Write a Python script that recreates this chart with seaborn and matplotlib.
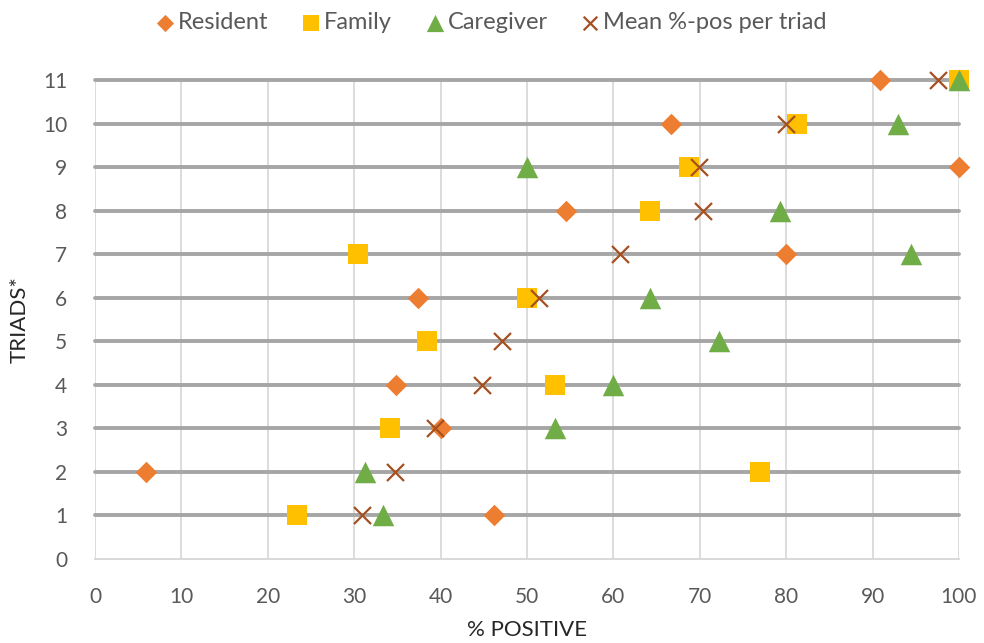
import numpy as np
import pandas as pd
import matplotlib
matplotlib.use("Agg")
import matplotlib.pyplot as plt
import seaborn as sns

triads = list(range(1, 12))
resident = [46.2, 5.9, 40.0, 34.8, np.nan, 37.4, 80.0, 54.5, 100.0, 66.7, 90.9]
family = [23.4, 77.0, 34.1, 53.2, 38.4, 50.0, 30.5, 64.3, 68.8, 81.3, 100.0]
caregiver = [33.3, 31.2, 53.3, 60.0, 72.2, 64.3, 94.4, 79.3, 50.0, 92.9, 100.0]
mean_pos = [30.9, 34.7, 39.4, 44.8, 47.1, 51.4, 60.8, 70.4, 69.9, 80.0, 97.6]

series = ['Resident', 'Family', 'Caregiver', 'Mean %-pos per triad']
df = pd.DataFrame({
    'triad': triads * 4,
    'pct': resident + family + caregiver + mean_pos,
    'group': [s for s in series for _ in triads],
})

colors = {'Resident': '#ED7D31', 'Family': '#FFC000',
          'Caregiver': '#70AD47', 'Mean %-pos per triad': '#A5501F'}
markers = {'Resident': 'D', 'Family': 's', 'Caregiver': '^', 'Mean %-pos per triad': 'x'}
sizes = {'Resident': 120, 'Family': 190, 'Caregiver': 240, 'Mean %-pos per triad': 150}

sns.set_style('white')
plt.rcParams['font.family'] = ['Lato', 'DejaVu Sans']

fig = plt.figure(figsize=(9.84, 6.43), dpi=100)
ax = fig.add_axes([0.0965, 0.1306, 0.878, 0.745])

for i, g in enumerate(series):
    sub = df[df['group'] == g]
    if g == 'Mean %-pos per triad':
        sns.scatterplot(data=sub, x='pct', y='triad', ax=ax, marker='x', s=sizes[g],
                        color=colors[g], linewidth=1.6, label=g, zorder=5 + i, clip_on=False)
    else:
        sns.scatterplot(data=sub, x='pct', y='triad', ax=ax, marker=markers[g], s=sizes[g],
                        color=colors[g], linewidth=0, label=g, zorder=5 + i, clip_on=False)

ax.set_xlim(0, 100)
ax.set_ylim(0, 11)
ax.set_xticks(np.arange(0, 101, 10))
ax.set_yticks(np.arange(0, 12, 1))

ax.grid(True, axis='x', color='#D9D9D9', linewidth=1.3, zorder=1)
ax.grid(True, axis='y', color='#A6A6A6', linewidth=2.8, zorder=2)
ax.set_axisbelow(True)
for gl in ax.get_ygridlines():
    gl.set_clip_on(False)
ax.get_ygridlines()[0].set_color('#D9D9D9')
ax.get_ygridlines()[0].set_linewidth(1.3)

for s in ['top', 'right', 'left']:
    ax.spines[s].set_visible(False)
ax.spines['bottom'].set_color('#D9D9D9')
ax.spines['bottom'].set_linewidth(1.3)

ax.tick_params(axis='both', length=0, labelsize=15, labelcolor='#595959')
ax.tick_params(axis='x', pad=20)
ax.tick_params(axis='y', pad=20)

ax.set_xlabel('% POSITIVE', fontsize=16, color='#262626')
ax.set_ylabel('TRIADS*', fontsize=16, color='#262626')
ax.xaxis.set_label_coords(0.5, -0.128)
ax.yaxis.set_label_coords(-0.076, 0.5)

ax.legend_.remove()
h, l = ax.get_legend_handles_labels()
fig.legend(h, l, loc='center', bbox_to_anchor=(0.498, 0.965), ncol=4, frameon=False,
           fontsize=17, labelcolor='#595959', handlelength=1.0, handletextpad=0.05,
           columnspacing=1.3, markerscale=0.8)

fig.savefig('out.png', dpi=100)
